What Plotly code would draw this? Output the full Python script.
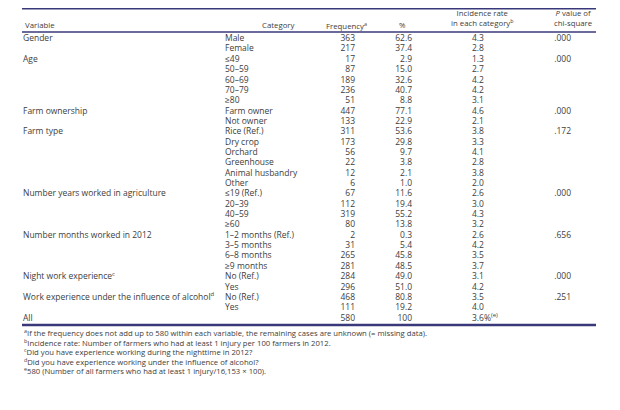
import plotly.graph_objects as go

# table content
variables = ["Gender", "", "Age", "", "", "", "", "Farm ownership", "", "Farm type", "", "", "", "", "",
             "Number years worked in agriculture", "", "", "", "Number months worked in 2012", "", "", "",
             "Night work experience<sup>c</sup>", "", "Work experience under the influence of alcohol<sup>d</sup>", "", "All"]
categories = ["Male", "Female", "≤49", "50–59", "60–69", "70–79", "≥80", "Farm owner", "Not owner",
              "Rice (Ref.)", "Dry crop", "Orchard", "Greenhouse", "Animal husbandry", "Other",
              "≤19 (Ref.)", "20–39", "40–59", "≥60", "1–2 months (Ref.)", "3–5 months", "6–8 months",
              "≥9 months", "No (Ref.)", "Yes", "No (Ref.)", "Yes", ""]
frequency = [363, 217, 17, 87, 189, 236, 51, 447, 133, 311, 173, 56, 22, 12, 6, 67, 112, 319, 80,
             2, 31, 265, 281, 284, 296, 468, 111, 580]
percent = ["62.6", "37.4", "2.9", "15.0", "32.6", "40.7", "8.8", "77.1", "22.9", "53.6", "29.8", "9.7",
           "3.8", "2.1", "1.0", "11.6", "19.4", "55.2", "13.8", "0.3", "5.4", "45.8", "48.5", "49.0",
           "51.0", "80.8", "19.2", "100"]
incidence = ["4.3", "2.8", "1.3", "2.7", "4.2", "4.2", "3.1", "4.6", "2.1", "3.8", "3.3", "4.1", "2.8",
             "3.8", "2.0", "2.6", "3.0", "4.3", "3.2", "2.6", "4.2", "3.5", "3.7", "3.1", "4.2", "3.5",
             "4.0", "3.6%<sup>(e)</sup>"]
p_values = [".000", "", ".000", "", "", "", "", ".000", "", ".172", "", "", "", "", "",
            ".000", "", "", "", ".656", "", "", "", ".000", "", ".251", "", ""]
footnotes = [
    "<sup>a</sup>If the frequency does not add up to 580 within each variable, the remaining cases are unknown (= missing data).",
    "<sup>b</sup>Incidence rate: Number of farmers who had at least 1 injury per 100 farmers in 2012.",
    "<sup>c</sup>Did you have experience working during the nighttime in 2012?",
    "<sup>d</sup>Did you have experience working under the influence of alcohol?",
    "<sup>e</sup>580 (Number of all farmers who had at least 1 injury/16,153 × 100).",
]

txt = "#3d3d3d"
rule = "#38387a"
fnt = dict(family="Open Sans", size=8.5, color=txt)

y0, dy = 31, 10.35
ys = [y0 + i * dy for i in range(len(categories))]

fig = go.Figure()

def col(x, vals, pos):
    keep = [i for i, v in enumerate(vals) if str(v) != ""]
    fig.add_trace(go.Scatter(x=[x] * len(keep), y=[ys[i] for i in keep],
                             text=[str(vals[i]) for i in keep], mode="text",
                             textposition=pos, textfont=fnt, hoverinfo="skip", showlegend=False))

col(15, variables, "middle right")
col(217, categories, "middle right")
col(347, frequency, "middle left")
col(404, percent, "middle left")
col(464, incidence, "middle right")
col(563, p_values, "middle left")

# header
hfnt = dict(family="Open Sans", size=7.8, color=txt)
heads = [(15, 17, "Variable", "left"), (289, 17, "Category", "right"),
         (338, 17, "Frequency<sup>a</sup>", "center"), (394, 17, "%", "center"),
         (474, 9.5, "Incidence rate<br>in each category<sup>b</sup>", "center"),
         (565, 9.5, "<i>P</i> value of<br>chi-square", "center")]
for x, y, t, a in heads:
    fig.add_annotation(x=x, y=y, text=t, showarrow=False, xanchor=a, yanchor="middle",
                       align="center", font=hfnt, xref="x", yref="y")

for i, t in enumerate(footnotes):
    fig.add_annotation(x=14, y=324.5 + i * 9.5, text=t, showarrow=False, xanchor="left",
                       yanchor="middle", font=dict(family="Open Sans", size=7.7, color=txt),
                       xref="x", yref="y")

fig.add_shape(type="line", x0=14, x1=588, y0=0.8, y1=0.8, line=dict(color=rule, width=1.5))
fig.add_shape(type="line", x0=14, x1=588, y0=24, y1=24, line=dict(color=rule, width=1.5))
fig.add_shape(type="line", x0=14, x1=588, y0=317, y1=317, line=dict(color=rule, width=2.5))

fig.update_xaxes(range=[0, 620], visible=False)
fig.update_yaxes(range=[410, 0], visible=False)
fig.update_layout(width=620, height=410, margin=dict(l=0, r=0, t=0, b=0),
                  paper_bgcolor="white", plot_bgcolor="white")
fig.write_html("out.html")
